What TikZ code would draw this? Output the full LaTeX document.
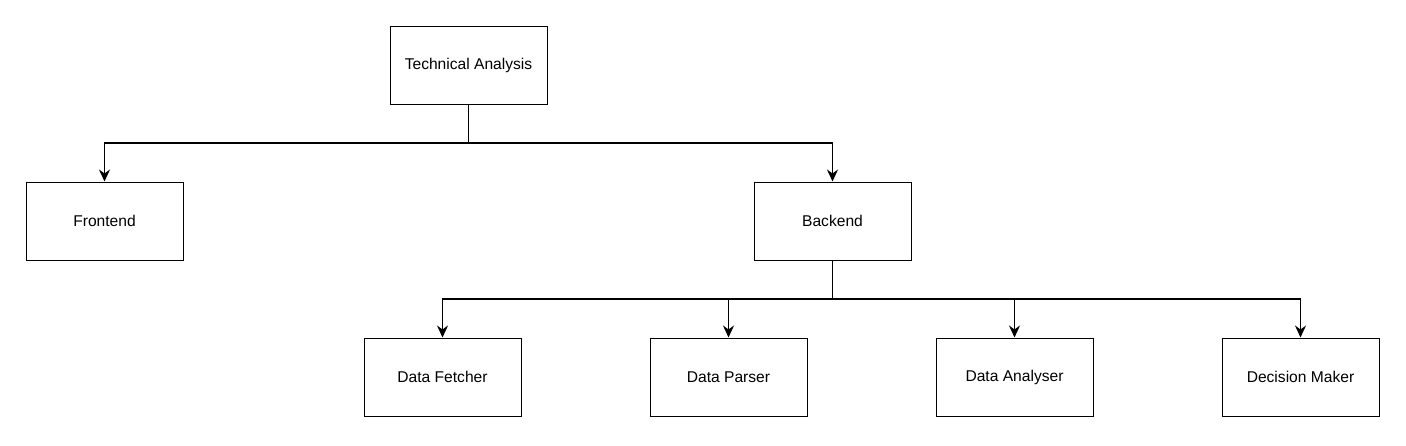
\documentclass[tikz,border=0pt]{standalone}
\usepackage{fontspec}
\setmainfont{Liberation Sans}
\usetikzlibrary{arrows.meta}
\begin{document}
\begin{tikzpicture}[x=1pt,y=-1pt,
  box/.style={draw=black,line width=1pt,minimum width=157pt,minimum height=78pt,inner sep=0pt,font=\fontsize{15.6}{18}\selectfont,fill=white},
  conn/.style={draw=black,line width=1.6pt,-{Stealth[length=12pt,width=11pt,inset=4pt]}}]
\useasboundingbox (0,0) rectangle (1406,445);
\node[box] (ta) at (468.5,65) {Technical Analysis};
\node[box] (fe) at (104.5,221) {Frontend};
\node[box] (be) at (832.5,221) {Backend};
\node[box] (df) at (442.5,377) {Data Fetcher};
\node[box] (dp) at (728.5,377) {Data Parser};
\node[box] (da) at (1014.5,377) {Data Analyser};
\node[box] (dm) at (1300.5,377) {Decision Maker};
\coordinate (j1) at (468.5,143);
\coordinate (j2) at (832.5,299);
\draw[conn] (ta.south) -- (j1) -| (fe.north);
\draw[conn] (ta.south) -- (j1) -| (be.north);
\draw[conn] (be.south) -- (j2) -| (df.north);
\draw[conn] (be.south) -- (j2) -| (dp.north);
\draw[conn] (be.south) -- (j2) -| (da.north);
\draw[conn] (be.south) -- (j2) -| (dm.north);
\end{tikzpicture}
\end{document}
